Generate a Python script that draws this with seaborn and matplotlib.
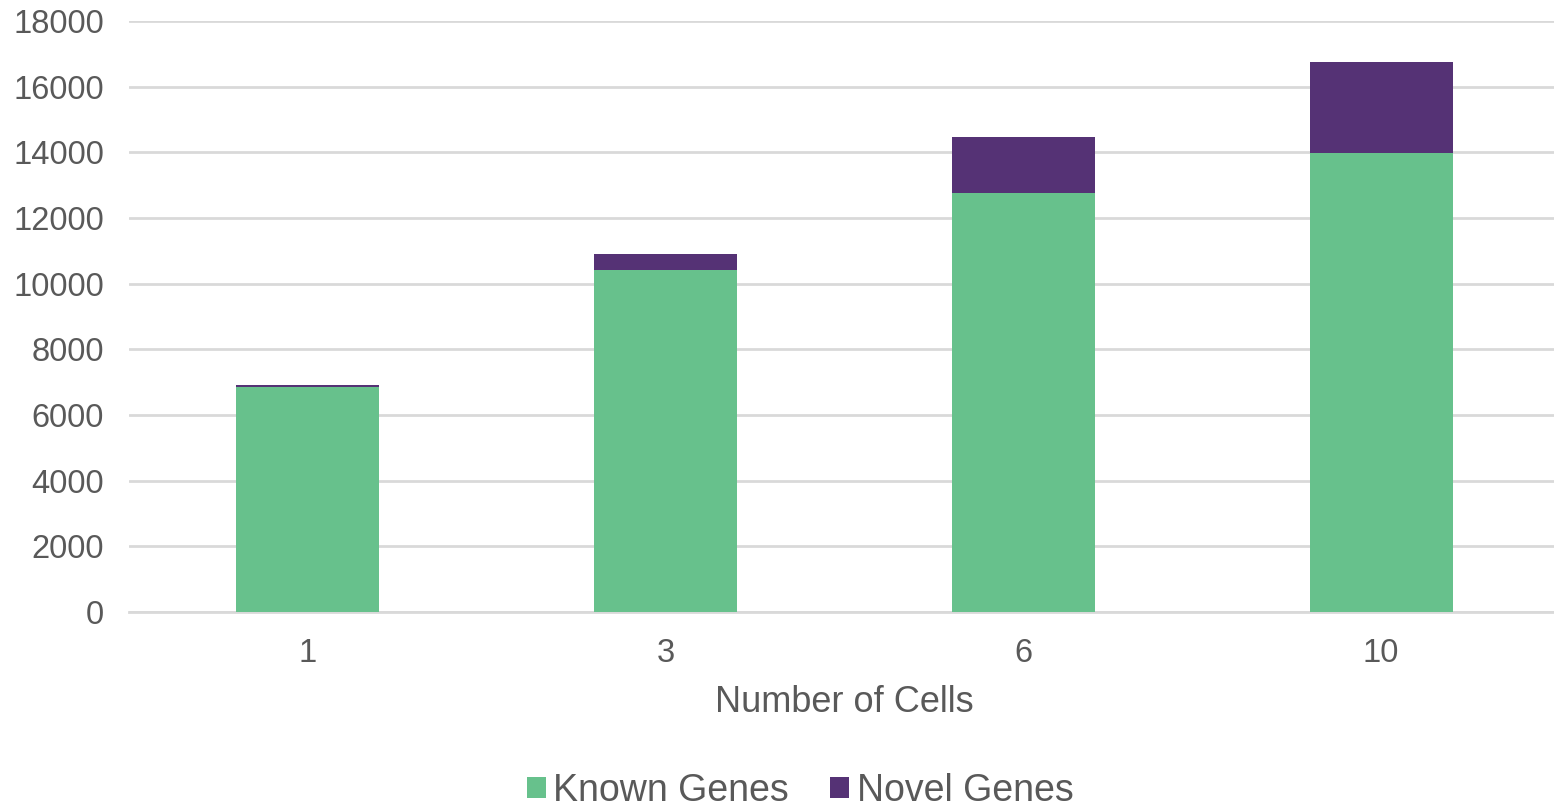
import matplotlib
matplotlib.use("Agg")
import matplotlib.pyplot as plt
from matplotlib.patches import Patch
import seaborn as sns
import pandas as pd

cells = ["1", "3", "6", "10"]
known_genes = [6845, 10420, 12770, 13980]
novel_genes = [70, 480, 1705, 2765]

green = "#67C18C"
purple = "#553275"
text_color = "#595959"
grid_color = "#D9D9D9"

sns.set_theme(style="white")
plt.rcParams["font.family"] = ["Liberation Sans", "DejaVu Sans"]

df = pd.DataFrame({
    "cells": cells,
    "known": known_genes,
    "novel": novel_genes,
})
df["total"] = df["known"] + df["novel"]

fig = plt.figure(figsize=(15.54, 8.07), dpi=100)
ax = fig.add_axes([129 / 1554, (807 - 612) / 807, (1560 - 129) / 1554, (612 - 21) / 807])

# stacked bars: full height in purple, known part drawn on top in green
sns.barplot(data=df, x="cells", y="total", color=purple, width=0.40,
            saturation=1, linewidth=0, ax=ax, zorder=3)
sns.barplot(data=df, x="cells", y="known", color=green, width=0.40,
            saturation=1, linewidth=0, ax=ax, zorder=4)

ax.set_ylim(0, 18000)
ax.set_yticks(range(0, 18001, 2000))
ax.set_xlim(-0.5, 3.5)
ax.yaxis.grid(True, color=grid_color, linewidth=2, zorder=0)
ax.set_axisbelow(True)
for s in ["top", "right", "left"]:
    ax.spines[s].set_visible(False)
ax.spines["bottom"].set_color(grid_color)
ax.spines["bottom"].set_linewidth(2)

ax.tick_params(axis="both", length=0, labelsize=23.5, colors=text_color)
ax.tick_params(axis="x", pad=19)
ax.tick_params(axis="y", pad=18)
ax.set_ylabel("")
ax.set_xlabel("Number of Cells", fontsize=26, color=text_color, labelpad=11)

handles = [Patch(facecolor=green, edgecolor="none", label="Known Genes"),
           Patch(facecolor=purple, edgecolor="none", label="Novel Genes")]
fig.legend(handles=handles, loc="lower center", bbox_to_anchor=(0.515, -0.044),
           ncol=2, frameon=False, fontsize=27, labelcolor=text_color,
           handlelength=0.5, handleheight=0.5, handletextpad=0.2,
           columnspacing=1.1)

fig.savefig("out.png", dpi=100)
